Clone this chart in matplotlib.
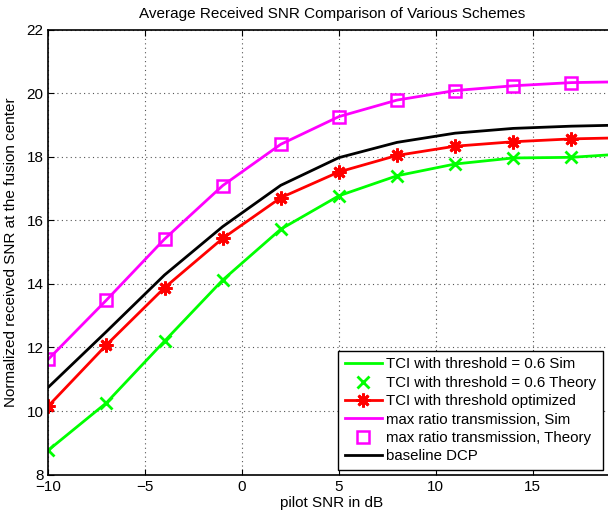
import matplotlib
matplotlib.use("Agg")
import matplotlib.pyplot as plt

plt.rcParams["font.family"] = ["Liberation Sans", "DejaVu Sans"]
plt.rcParams["axes.unicode_minus"] = True

# pilot SNR points (markers every 3 dB)
pilot_snr = [-10, -7, -4, -1, 2, 5, 8, 11, 14, 17, 20]

tci_06 = [8.77, 10.26, 12.20, 14.12, 15.72, 16.77, 17.40, 17.77, 17.96, 17.98, 18.10]
tci_opt = [10.16, 12.08, 13.88, 15.43, 16.71, 17.52, 18.04, 18.33, 18.47, 18.56, 18.60]
mrt = [11.63, 13.49, 15.41, 17.09, 18.39, 19.26, 19.78, 20.08, 20.23, 20.33, 20.36]
dcp = [10.75, 12.50, 14.28, 15.80, 17.10, 17.97, 18.45, 18.74, 18.89, 18.96, 19.00]

W, H = 608, 512
fig = plt.figure(figsize=(W / 100, H / 100), dpi=100, facecolor="white")
# axes runs a little past the right edge of the picture (as in the original crop)
ax = fig.add_axes([48.3 / W, 1 - 474.7 / H, 567 / W, (474.7 - 29.5) / H])

asterisk = (8, 2, 0)
ax.plot(pilot_snr, tci_06, color="#00ff00", lw=2, label="TCI with threshold = 0.6 Sim")
ax.plot(pilot_snr, tci_06, "x", color="#00ff00", ms=8, mew=2, label="TCI with threshold = 0.6 Theory")
ax.plot(pilot_snr, tci_opt, color="red", marker=asterisk, lw=2, ms=10, mew=2,
        label="TCI with threshold optimized")
ax.plot(pilot_snr, mrt, color="magenta", lw=2, label="max ratio transmission, Sim")
ax.plot(pilot_snr, mrt, "s", color="magenta", mfc="none", ms=9, mew=1.8, label="max ratio transmission, Theory")
ax.plot(pilot_snr, dcp, color="black", lw=2, label="baseline DCP")

ax.set_xlim(-10, -10 + 567 / 19.37)
ax.set_ylim(8, 22)
ax.set_xticks([-10, -5, 0, 5, 10, 15])
ax.set_yticks(range(8, 23, 2))
ax.tick_params(direction="in", labelsize=11, length=4, top=True, right=True)
ax.grid(True, linestyle=(0, (1, 3)), color="#555555", lw=0.8)
for s in ax.spines.values():
    s.set_linewidth(1.2)

ax.set_title("Average Received SNR Comparison of Various Schemes", fontsize=11, pad=8)
ax.set_xlabel("pilot SNR in dB", fontsize=11, labelpad=2)
ax.set_ylabel("Normalized received SNR at the fusion center", fontsize=11, labelpad=6)

leg = ax.legend(loc="lower right", bbox_to_anchor=(603 / W, 1 - 470 / H),
                bbox_transform=fig.transFigure, fontsize=10.8, frameon=True,
                fancybox=False, edgecolor="black", framealpha=1,
                handlelength=2.45, labelspacing=0.29, borderpad=0.45,
                handletextpad=0.3, borderaxespad=0)
leg.get_frame().set_linewidth(1.0)

fig.savefig("out.png", dpi=100, facecolor=fig.get_facecolor())
